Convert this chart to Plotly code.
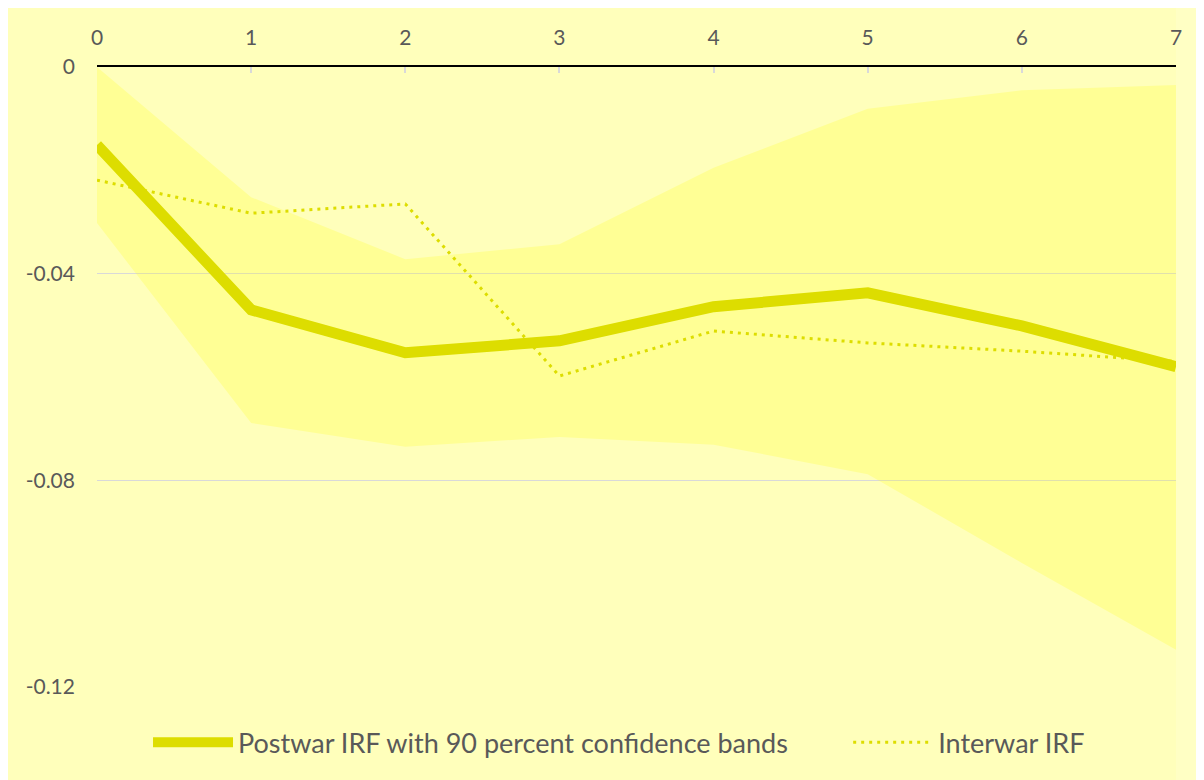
import plotly.graph_objects as go

horizons = [0, 1, 2, 3, 4, 5, 6, 7]
postwar = [-0.0151, -0.0470, -0.0553, -0.0530, -0.0464, -0.0437, -0.0501, -0.0580]
interwar = [-0.0219, -0.0283, -0.0265, -0.0598, -0.0511, -0.0534, -0.0550, -0.0570]
upper_band = [0.0000, -0.0252, -0.0372, -0.0343, -0.0195, -0.0081, -0.0045, -0.0035]
lower_band = [-0.0302, -0.0689, -0.0735, -0.0716, -0.0731, -0.0788, -0.0960, -0.1128]
y_ticks = [0, -0.04, -0.08, -0.12]
y_tick_labels = ["0", "-0.04", "-0.08", "-0.12"]
series_names = ["Postwar IRF with 90 percent confidence bands", "Interwar IRF"]

BG = "#FFFFBB"
LINE = "#DDDD00"
TEXT = "#595959"
FONT = "Lato"
NBSP = "\u00a0"

fig = go.Figure()
fig.add_trace(go.Scatter(x=horizons, y=lower_band, mode="lines", line=dict(width=0),
                         showlegend=False, hoverinfo="skip"))
fig.add_trace(go.Scatter(x=horizons, y=upper_band, mode="lines", line=dict(width=0),
                         fill="tonexty", fillcolor="rgba(255,255,0,0.20)",
                         showlegend=False, hoverinfo="skip"))
fig.add_trace(go.Scatter(x=horizons, y=postwar, mode="lines",
                         name=series_names[0] + NBSP * 8,
                         line=dict(color=LINE, width=11)))
fig.add_trace(go.Scatter(x=horizons, y=interwar, mode="lines", name=series_names[1],
                         line=dict(color=LINE, width=3, dash="3px,5px")))

fig.update_layout(
    width=1196, height=772,
    margin=dict(l=89, r=28, t=59, b=93),
    paper_bgcolor=BG, plot_bgcolor=BG,
    font=dict(family=FONT, color=TEXT, size=21),
    xaxis=dict(range=[0, 7], side="top", tickmode="array", tickvals=horizons,
               showline=True, linecolor="#000000", linewidth=2,
               ticks="inside", ticklen=6, tickcolor="#D9D9D9", tickwidth=2,
               showgrid=False, zeroline=False, ticklabelstandoff=12,
               tickfont=dict(size=21, color=TEXT)),
    yaxis=dict(range=[-0.12, 0], tickmode="array", tickvals=y_ticks, ticktext=y_tick_labels,
               showgrid=True, gridcolor="#D9D9D9", gridwidth=1, zeroline=False,
               showline=False, ticks="", ticklabelstandoff=21,
               tickfont=dict(size=21, color=TEXT)),
    legend=dict(orientation="h", traceorder="normal", x=0.4838, xanchor="center",
                y=-0.09, yanchor="middle",
                font=dict(size=27, color=TEXT), itemwidth=80, bgcolor="rgba(0,0,0,0)"),
    shapes=[
        dict(type="rect", xref="paper", yref="paper", x0=1, x1=1.05,
             y0=-0.3, y1=1.2, fillcolor="#FFFFC4", line=dict(width=0), layer="below"),
    ],
)

fig.write_html("out.html")
